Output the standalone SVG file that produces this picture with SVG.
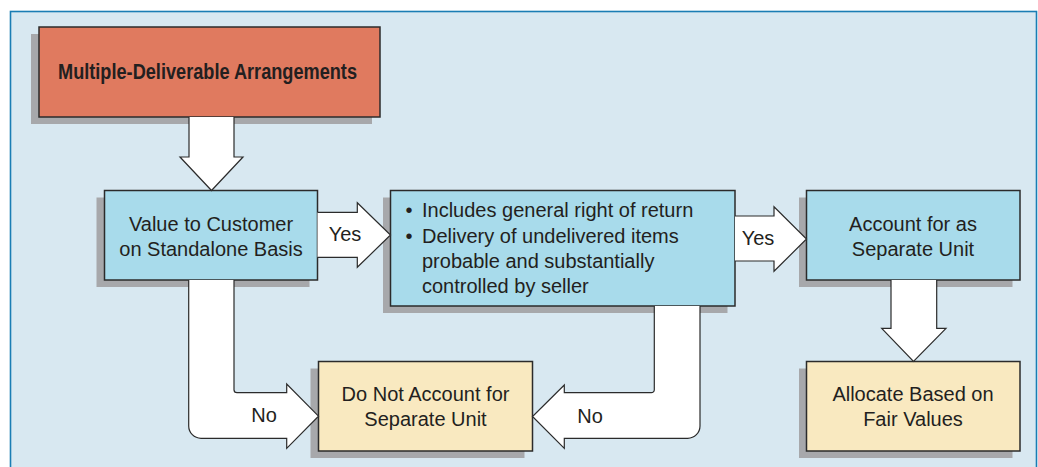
<svg xmlns="http://www.w3.org/2000/svg" width="1038" height="467" viewBox="0 0 1038 467">
<style>
.panel{fill:#D8E8F1;stroke:#1A7DB4;stroke-width:1.6}
.sh{fill:#A7A8AB}
.box{stroke:#2B2B2B;stroke-width:1.5}
.red{fill:#E07A5F}
.blue{fill:#A8DBEB}
.yel{fill:#F9E9C0}
.arr{fill:#FFFFFF;stroke:#2B2B2B;stroke-width:1.2;stroke-linejoin:miter}
text{font-family:"Liberation Sans",Arial,sans-serif;font-size:20px;fill:#231F20}
.c{text-anchor:middle}
.t{font-weight:bold;font-size:22px}
</style>
<rect class="panel" x="10.5" y="11.5" width="1026" height="470"/>
<g id="node-mda">
<rect class="sh" x="31" y="34" width="341" height="90"/>
<rect class="box red" x="39" y="27" width="341" height="90"/>
<text class="t" x="58" y="79" textLength="299" lengthAdjust="spacingAndGlyphs">Multiple-Deliverable Arrangements</text>
</g>
<g id="node-value">
<rect class="sh" x="96.5" y="197.5" width="213" height="89.5"/>
<rect class="box blue" x="104.5" y="190.5" width="213" height="89.5"/>
<text class="c" x="211" y="231">Value to Customer</text>
<text class="c" x="211" y="256">on Standalone Basis</text>
</g>
<g id="node-criteria">
<rect class="sh" x="383" y="197.5" width="344.5" height="115.5"/>
<rect class="box blue" x="390.5" y="190.5" width="344.5" height="115.5"/>
<text x="409" y="217" class="c">•</text>
<text x="409" y="243" class="c">•</text>
<text x="422" y="217">Includes general right of return</text>
<text x="422" y="243">Delivery of undelivered items</text>
<text x="422" y="267.5">probable and substantially</text>
<text x="422" y="292.5">controlled by seller</text>
</g>
<g id="node-separate">
<rect class="sh" x="799" y="197.5" width="213.5" height="89.5"/>
<rect class="box blue" x="806.5" y="190.5" width="213.5" height="89.5"/>
<text class="c" x="913" y="230.5">Account for as</text>
<text class="c" x="913" y="255.5">Separate Unit</text>
</g>
<g id="node-notseparate">
<rect class="sh" x="310.5" y="368.5" width="214" height="89.5"/>
<rect class="box yel" x="318.5" y="361.5" width="214" height="89.5"/>
<text class="c" x="425.5" y="401">Do Not Account for</text>
<text class="c" x="425.5" y="425.5">Separate Unit</text>
</g>
<g id="node-allocate">
<rect class="sh" x="799" y="368.5" width="213.5" height="89.5"/>
<rect class="box yel" x="806.5" y="361.5" width="213.5" height="89.5"/>
<text class="c" x="913" y="401">Allocate Based on</text>
<text class="c" x="913" y="425.5">Fair Values</text>
</g>
<g id="connectors">
<path class="arr" d="M189,117 V157 H180 L211.5,190.5 L243,157 H234 V117"/>
<path class="arr" d="M317.5,212.3 H357.3 V202.7 L390.5,235 L357.3,267.3 V257.3 H317.5"/>
<path class="arr" d="M735,216 H774 V206.7 L806.5,239 L774,271.3 V261 H735"/>
<path class="arr" d="M891,280 V328.3 H881.7 L913.5,361.5 L946,328.3 H936.7 V280"/>
<path class="arr" d="M188.7,280 V426 A12.3,12.3 0 0 0 201,438.3 H286.7 V448.3 L318.5,416.2 L286.7,384 V392.7 H237 A3,3 0 0 1 234,389.7 V280"/>
<path class="arr" d="M654.3,306 V389.7 A3,3 0 0 1 651.3,392.7 H564.3 V385 L532.5,416.5 L564.3,448.3 V438.3 H687.7 A12.3,12.3 0 0 0 700,426 V306"/>
<text class="c" x="345" y="240.5">Yes</text>
<text class="c" x="758" y="245">Yes</text>
<text class="c" x="264" y="422">No</text>
<text class="c" x="590" y="423">No</text>
</g>
</svg>
